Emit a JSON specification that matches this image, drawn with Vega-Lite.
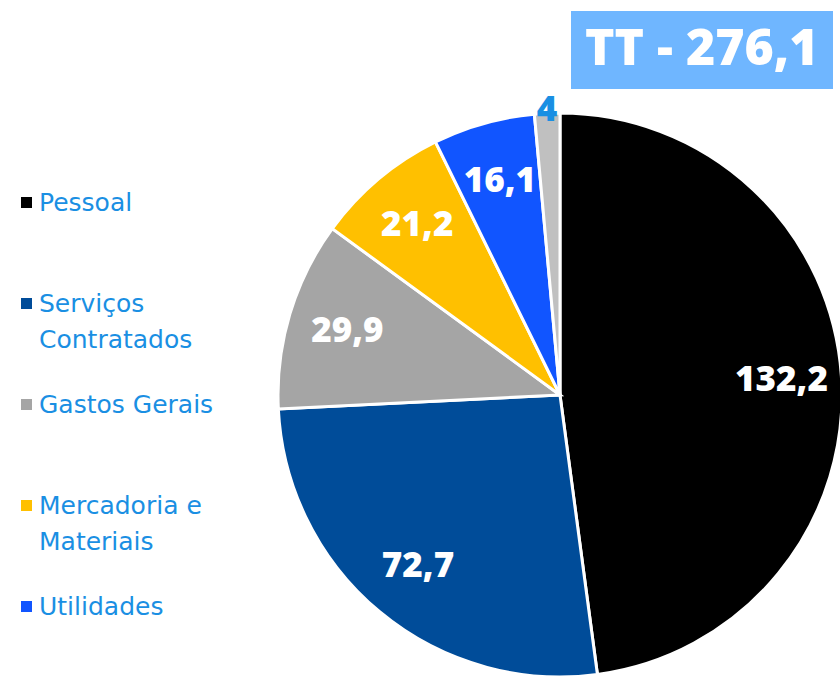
{
  "$schema": "https://vega.github.io/schema/vega-lite/v6.json",
  "width": 560,
  "height": 564,
  "autosize": {"type": "none"},
  "padding": {"left": 280, "top": 113, "right": 0, "bottom": 0},
  "background": "white",
  "config": {"view": {"stroke": null}, "style": {"guide-label": {"lineHeight": 36}}},
  "data": {
    "values": [
      {"cat": "Pessoal", "value": 132.2, "label": "132,2", "o": 1},
      {"cat": "Serviços Contratados", "value": 72.7, "label": "72,7", "o": 2},
      {"cat": "Gastos Gerais", "value": 29.9, "label": "29,9", "o": 3},
      {"cat": "Mercadoria e Materiais", "value": 21.2, "label": "21,2", "o": 4},
      {"cat": "Utilidades", "value": 16.1, "label": "16,1", "o": 5},
      {"cat": "Outros", "value": 4, "label": "4", "o": 6}
    ]
  },
  "encoding": {
    "theta": {"field": "value", "type": "quantitative", "stack": true},
    "order": {"field": "o", "type": "quantitative"}
  },
  "layer": [
    {
      "mark": {"type": "arc", "outerRadius": 282, "stroke": "white", "strokeWidth": 3},
      "encoding": {
        "color": {
          "field": "cat",
          "type": "nominal",
          "scale": {
            "domain": ["Pessoal", "Serviços Contratados", "Gastos Gerais", "Mercadoria e Materiais", "Utilidades", "Outros"],
            "range": ["#000000", "#004c99", "#a5a5a5", "#ffc000", "#1155ff", "#c0c0c0"]
          },
          "legend": {
            "orient": "none",
            "legendX": -266,
            "legendY": 77,
            "title": null,
            "values": ["Pessoal", "Serviços Contratados", "Gastos Gerais", "Mercadoria e Materiais", "Utilidades"],
            "symbolType": "square",
            "symbolSize": 121,
            "symbolStrokeWidth": 0,
            "labelFont": "DejaVu Sans",
            "labelFontSize": 25,
            "labelColor": "#1a8fe3",
            "labelLimit": 300,
            "labelOffset": 0,
            "labelExpr": "datum.label == 'Serviços Contratados' ? ['Serviços', 'Contratados'] : datum.label == 'Mercadoria e Materiais' ? ['Mercadoria e', 'Materiais'] : [datum.label, '']",
            "rowPadding": 39,
            "padding": 0
          }
        }
      }
    },
    {
      "mark": {"type": "text", "radius": 222, "font": "Open Sans", "fontWeight": 800, "fontSize": 35, "color": "#ffffff"},
      "encoding": {
        "text": {"condition": {"test": "datum.value < 5", "value": ""}, "field": "label"}
      }
    },
    {
      "mark": {"type": "text", "radius": 285, "font": "Open Sans", "fontWeight": 800, "fontSize": 35, "color": "#1a8fe3"},
      "encoding": {
        "text": {"condition": {"test": "datum.value >= 5", "value": ""}, "field": "label"},
        "strokeWidth": {
          "datum": "TT - 276,1",
          "type": "nominal",
          "scale": {"range": [0, 0]},
          "legend": {
            "orient": "none",
            "legendX": 291,
            "legendY": -102,
            "title": "TT - 276,1",
            "titleFont": "Open Sans",
            "titleFontWeight": 800,
            "titleFontSize": 50,
            "titleColor": "#ffffff",
            "titleLimit": 500,
            "titlePadding": 0,
            "fillColor": "#6fb6ff",
            "padding": 14,
            "symbolSize": 0,
            "symbolStrokeWidth": 0,
            "symbolOpacity": 0,
            "labelOpacity": 0,
            "labelFontSize": 1
          }
        }
      }
    }
  ]
}
